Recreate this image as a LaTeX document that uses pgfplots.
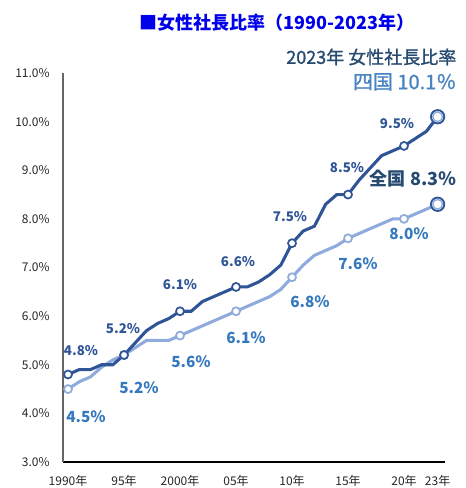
\documentclass[border=0pt]{standalone}
\usepackage{pgfplots}
\pgfplotsset{compat=1.18}
\usepackage{fontspec}
\setmainfont{Noto Sans CJK JP}
\newfontfamily\medfont[FakeBold=1.2]{Noto Sans CJK JP}
\definecolor{darkln}{RGB}{47,85,151}
\definecolor{lightln}{RGB}{143,170,220}
\definecolor{lightlab}{RGB}{52,120,190}
\definecolor{titleblue}{RGB}{0,0,235}
\definecolor{slate}{RGB}{38,74,112}
\definecolor{midblue}{RGB}{72,132,194}
\begin{document}
\begin{tikzpicture}
\path[use as bounding box] (0,0) rectangle (466*0.75pt,488*0.75pt);
\begin{axis}[
  at={(63*0.75pt,26*0.75pt)}, anchor=south west,
  scale only axis, width=382*0.75pt, height=389*0.75pt,
  xmin=1989.55, xmax=2023.66, ymin=3, ymax=11,
  axis lines=left, axis line style={-, line width=0.8pt},
  y axis line style={draw=black!60},
  x axis line style={draw=black},
  xtick={1990,1995,2000,2005,2010,2015,2020,2023},
  xticklabels={1990年,95年,2000年,05年,10年,15年,20年,23年},
  ytick={3,4,5,6,7,8,9,10,11},
  yticklabels={3.0\%,4.0\%,5.0\%,6.0\%,7.0\%,8.0\%,9.0\%,10.0\%,11.0\%},
  major tick length=0pt,
  tick label style={font=\fontsize{9}{10}\selectfont, text=black!85},
  yticklabel style={xshift=-6.5pt},
  xticklabel style={yshift=-6.5pt},
  clip=false,
]
\addplot[lightln, line width=2.3pt, mark=*, mark size=3pt,
  mark options={fill=white, draw=lightln, line width=1.3pt},
  mark indices={1,6,11,16,21,26,31}] coordinates {
(1990,4.5)(1991,4.65)(1992,4.75)(1993,4.95)(1994,5.1)(1995,5.2)(1996,5.35)(1997,5.5)(1998,5.5)(1999,5.5)
(2000,5.6)(2001,5.7)(2002,5.8)(2003,5.9)(2004,6.0)(2005,6.1)(2006,6.2)(2007,6.3)(2008,6.4)(2009,6.55)
(2010,6.8)(2011,7.05)(2012,7.25)(2013,7.35)(2014,7.45)(2015,7.6)(2016,7.7)(2017,7.8)(2018,7.9)(2019,8.0)
(2020,8.0)(2021,8.1)(2022,8.2)(2023,8.3)};
\addplot[darkln, line width=2.3pt, mark=*, mark size=3pt,
  mark options={fill=white, draw=darkln, line width=1.3pt},
  mark indices={1,6,11,16,21,26,31}] coordinates {
(1990,4.8)(1991,4.9)(1992,4.9)(1993,5.0)(1994,5.0)(1995,5.2)(1996,5.45)(1997,5.7)(1998,5.85)(1999,5.95)
(2000,6.1)(2001,6.1)(2002,6.3)(2003,6.4)(2004,6.5)(2005,6.6)(2006,6.6)(2007,6.7)(2008,6.85)(2009,7.05)
(2010,7.5)(2011,7.75)(2012,7.85)(2013,8.3)(2014,8.5)(2015,8.5)(2016,8.8)(2017,9.05)(2018,9.3)(2019,9.4)
(2020,9.5)(2021,9.65)(2022,9.8)(2023,10.1)};
\addplot[only marks, mark=*, mark size=5pt, mark options={fill=white, draw=darkln, line width=1.4pt}] coordinates {(2023,8.3)(2023,10.1)};
\addplot[only marks, mark=o, mark size=3.6pt, mark options={draw=lightln, line width=1pt}] coordinates {(2023,8.3)(2023,10.1)};
\end{axis}
\begin{scope}[x=0.75pt,y=0.75pt]
\node[text=titleblue, font=\fontsize{13.5}{15}\selectfont\bfseries] at (277,465) {■女性社長比率（1990-2023年）};
\node[anchor=east, text=slate, font=\medfont\fontsize{13.5}{15}\selectfont] at (461,431) {2023年 女性社長比率};
\node[anchor=east, text=midblue, font=\medfont\fontsize{15}{17}\selectfont] at (461,406) {四国 10.1％};
\node[anchor=east, text=slate, font=\fontsize{13.5}{15}\selectfont\bfseries] at (461,309) {全国 8.3％};
\begin{scope}[every node/.style={text=darkln, font=\fontsize{10}{11}\selectfont\bfseries}]
\node at (81,137) {4.8\%};
\node at (123,159) {5.2\%};
\node at (180,203) {6.1\%};
\node at (238,226) {6.6\%};
\node at (290,271) {7.5\%};
\node at (347,320) {8.5\%};
\node at (397,364) {9.5\%};
\end{scope}
\begin{scope}[every node/.style={text=lightlab, font=\fontsize{11.5}{13}\selectfont\bfseries}]
\node at (86,71) {4.5％};
\node at (139,100) {5.2％};
\node at (191,126) {5.6％};
\node at (246,150) {6.1％};
\node at (310,186) {6.8％};
\node at (358,224) {7.6％};
\node at (409,254) {8.0％};
\end{scope}
\end{scope}
\end{tikzpicture}
\end{document}
